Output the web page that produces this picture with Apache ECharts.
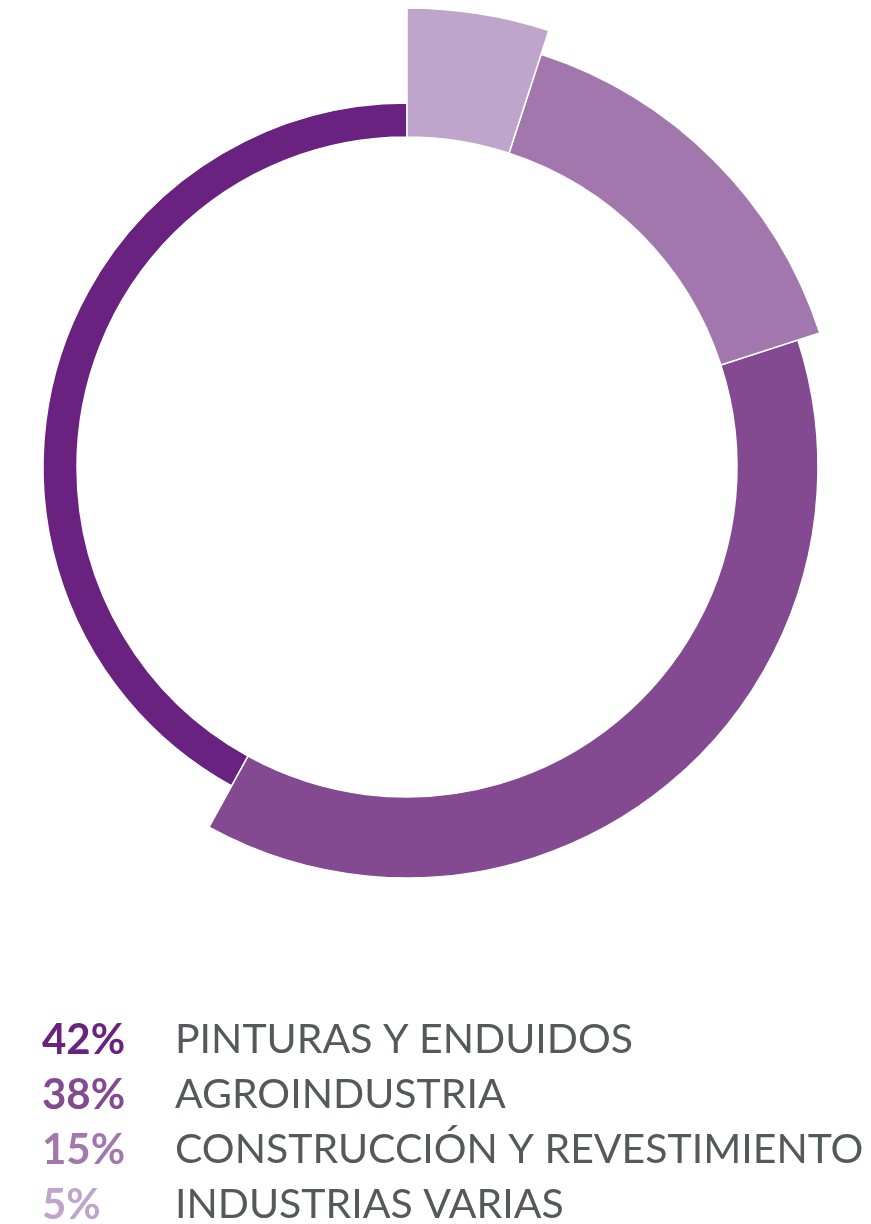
<!DOCTYPE html>
<html>
<head>
<meta charset="utf-8">
<script src="https://cdn.jsdelivr.net/npm/echarts@6/dist/echarts.min.js"></script>
<style>
  html, body { margin: 0; padding: 0; background: #ffffff; }
  #chart { width: 871px; height: 1224px; }
</style>
</head>
<body>
<div id="chart"></div>
<script>
// Market share by sector (percent)
const categories = ['PINTURAS Y ENDUIDOS', 'AGROINDUSTRIA', 'CONSTRUCCIÓN Y REVESTIMIENTO', 'INDUSTRIAS VARIAS'];
const shares = [42, 38, 15, 5];

// Styling per sector (same order as categories)
const colors = ['#6a2280', '#844a91', '#a277ae', '#bfa4cc'];
const outerRadius = [364, 411, 434, 459];
const innerRadius = 330;
const center = [407, 467];

// Ring runs clockwise from 12 o'clock, smallest share first
const ringOrder = categories.map((_, i) => i).reverse();

const series = categories.map((_, i) => ({
  type: 'pie',
  center: center,
  radius: [innerRadius, outerRadius[i]],
  startAngle: 90,
  clockwise: true,
  silent: true,
  animation: false,
  label: { show: false },
  labelLine: { show: false },
  emphasis: { disabled: true },
  data: ringOrder.map(j => ({
    name: categories[j],
    value: shares[j],
    itemStyle: j === i
      ? { color: colors[j], borderColor: '#ffffff', borderWidth: 1.5 }
      : { color: 'rgba(0,0,0,0)', borderWidth: 0 }
  }))
}));

const fontSize = 41;
const rich = {
  n: { color: '#54595b', fontFamily: 'Lato', fontSize: fontSize, fontWeight: 'normal', lineHeight: 42 }
};
categories.forEach((_, i) => {
  rich['p' + i] = {
    color: colors[i], fontFamily: 'Lato', fontSize: fontSize + 1, fontWeight: 'bold',
    width: 133, lineHeight: 42
  };
});

const chart = echarts.init(document.getElementById('chart'), null, { renderer: 'canvas' });
chart.setOption({
  backgroundColor: '#ffffff',
  legend: {
    orient: 'vertical',
    left: 36,
    top: 1019,
    height: 300,
    padding: 0,
    itemWidth: 0,
    itemHeight: 0,
    itemGap: 13,
    selectedMode: false,
    data: categories,
    formatter: name => {
      const i = categories.indexOf(name);
      return '{p' + i + '|' + shares[i] + '%}{n|' + name + '}';
    },
    textStyle: { rich: rich }
  },
  series: series
});
</script>
</body>
</html>
